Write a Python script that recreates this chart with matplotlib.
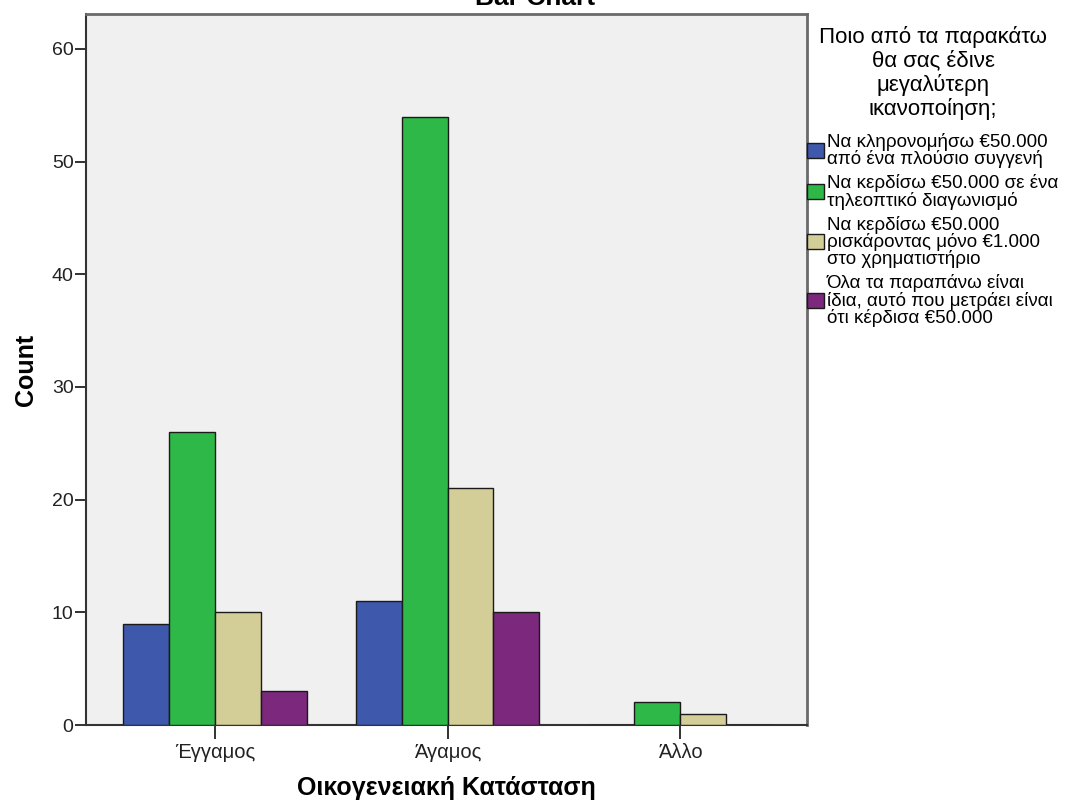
import matplotlib
matplotlib.use("Agg")
import matplotlib.pyplot as plt
from matplotlib.patches import Patch
import numpy as np

plt.rcParams['font.family'] = ['Liberation Sans', 'DejaVu Sans']

# ---- data ----
categories = ['Έγγαμος', 'Άγαμος', 'Άλλο']
series_labels = [
    'Να κληρονομήσω €50.000\nαπό ένα πλούσιο συγγενή',
    'Να κερδίσω €50.000 σε ένα\nτηλεοπτικό διαγωνισμό',
    'Να κερδίσω €50.000\nρισκάροντας μόνο €1.000\nστο χρηματιστήριο',
    'Όλα τα παραπάνω είναι\nίδια, αυτό που μετράει είναι\nότι κέρδισα €50.000',
]
counts = [
    [9, 11, 0],
    [26, 54, 2],
    [10, 21, 1],
    [3, 10, 0],
]
colors = ['#3e58ac', '#2eb848', '#d3ce97', '#7b287d']
legend_title = 'Ποιο από τα παρακάτω\nθα σας έδινε\nμεγαλύτερη\nικανοποίηση;'

# ---- figure ----
fig = plt.figure(figsize=(10.7, 8.05), dpi=100)
ax = fig.add_axes([86/1070, 80/805, (807-86)/1070, (725-14)/805])
ax.set_facecolor('#f0f0f0')

x = np.arange(len(categories))
w = 0.197
for i, vals in enumerate(counts):
    ax.bar(x + (i - 1.5) * w, vals, width=w, color=colors[i],
           edgecolor='#1a1a1a', linewidth=1.0, zorder=3)

ax.set_xlim(-0.554, 2.545)
ax.set_ylim(0, 63.1)
ax.set_yticks([0, 10, 20, 30, 40, 50, 60])
ax.set_xticks(x)
ax.set_xticklabels(categories)
ax.tick_params(axis='y', length=8, width=1.3, color='#222222', labelsize=14, pad=1, labelcolor='#222222')
ax.tick_params(axis='x', length=10, width=1.3, color='#222222', labelsize=14.5, pad=3, labelcolor='#222222')

for s in ['left', 'bottom']:
    ax.spines[s].set_color('#333333')
    ax.spines[s].set_linewidth(1.5)
for s in ['top', 'right']:
    ax.spines[s].set_color('#6a6a6a')
    ax.spines[s].set_linewidth(2.0)

ax.set_ylabel('Count', fontsize=18, fontweight='bold', labelpad=10)
ax.set_xlabel('Οικογενειακή Κατάσταση', fontsize=18, fontweight='bold', labelpad=10)

fig.text(0.5, 1 - 5/805, 'Bar Chart', ha='center', va='baseline',
         fontsize=19, fontweight='bold')

# legend title as centred text, entries as a legend below it
fig.text(933/1070, 1 - 26/805, legend_title, ha='center', va='top',
         multialignment='center', fontsize=16, linespacing=1.15)

handles = [Patch(facecolor=c, edgecolor='#1a1a1a', linewidth=1.0) for c in colors]
leg = ax.legend(handles, series_labels,
                loc='upper left', bbox_to_anchor=(807/1070, 1 - 133/805),
                bbox_transform=fig.transFigure, frameon=False,
                fontsize=13.5, borderpad=0, borderaxespad=0,
                handlelength=0.9, handleheight=0.85, handletextpad=0.15,
                labelspacing=0.32)
for t in leg.get_texts():
    t.set_linespacing(0.95)

fig.savefig('out.png', dpi=100)
